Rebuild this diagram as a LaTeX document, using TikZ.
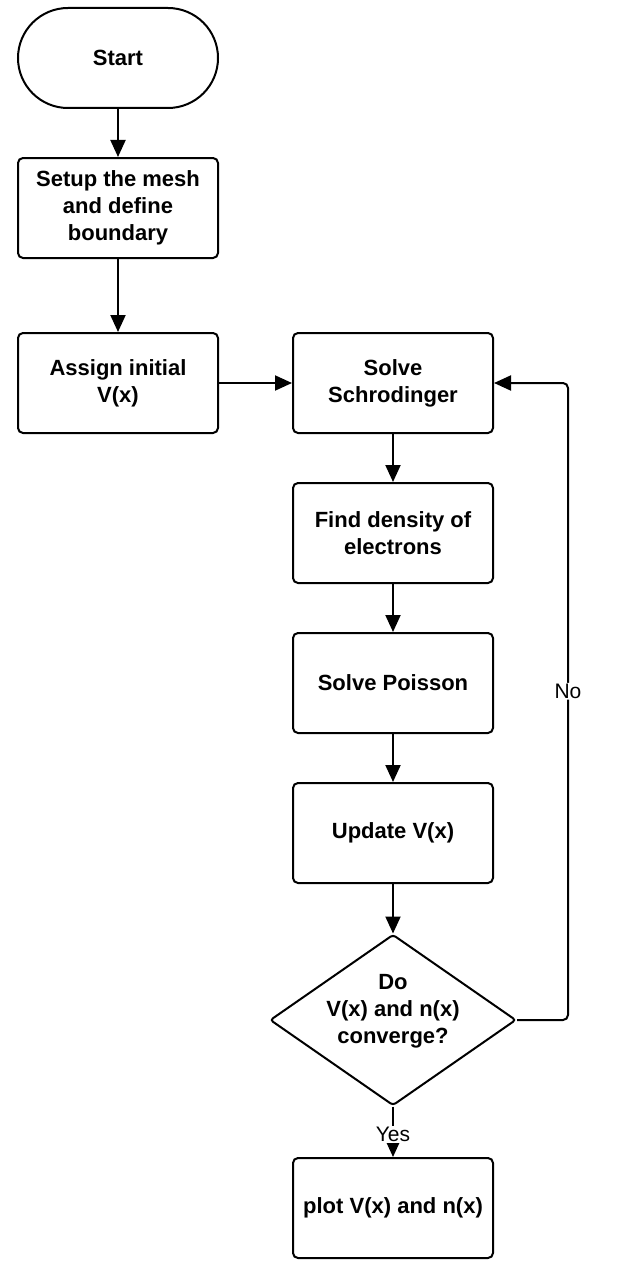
\documentclass[tikz,border=0pt]{standalone}
\usepackage{fontspec}
\setmainfont{Liberation Sans}
\usetikzlibrary{arrows.meta,shapes.geometric}
\begin{document}
\begin{tikzpicture}[x=1pt,y=-1pt,
  box/.style={draw,line width=2pt,rounded corners=5pt,minimum width=200pt,minimum height=100pt,align=center,font=\bfseries\fontsize{22}{27}\selectfont,inner sep=0pt},
  term/.style={box,rounded corners=50pt},
  dia/.style={draw,diamond,line width=2pt,minimum width=246pt,minimum height=171pt,inner sep=0pt,rounded corners=3pt},
  arr/.style={line width=2pt,-{Triangle[length=17pt,width=15pt]}},
  lab/.style={fill=white,inner sep=1pt,font=\fontsize{21}{25}\selectfont}]
\useasboundingbox (0,0) rectangle (630,1279);
\node[term] (start) at (118,58) {Start};
\node[box] (setup) at (118,208) {Setup the mesh\\and define\\boundary};
\node[box] (assign) at (118,383) {Assign initial\\V(x)};
\node[box] (schro) at (393,383) {Solve\\Schrodinger};
\node[box] (dens) at (393,533) {Find density of\\electrons};
\node[box] (poisson) at (393,683) {Solve Poisson};
\node[box] (update) at (393,833) {Update V(x)};
\node[dia,label={[font=\bfseries\fontsize{22}{27}\selectfont,align=center,yshift=9pt]center:Do\\V(x) and n(x)\\converge?}] (dec) at (393,1020) {};
\node[box] (plot) at (393,1208) {plot V(x) and n(x)};
\coordinate (k1) at (568,1020);
\coordinate (k2) at (568,383);
\draw[arr] (start) -- (setup);
\draw[arr] (setup) -- (assign);
\draw[arr] (assign) -- (schro);
\draw[arr] (schro) -- (dens);
\draw[arr] (dens) -- (poisson);
\draw[arr] (poisson) -- (update);
\draw[arr] (update) -- (dec);
\draw[arr] (dec) -- node[lab,pos=0.55]{Yes} (plot);
\draw[arr,rounded corners=5pt] (dec.east) -- (k1) -- node[lab,pos=0.516]{No} (k2) -- (schro.east);
\end{tikzpicture}
\end{document}
